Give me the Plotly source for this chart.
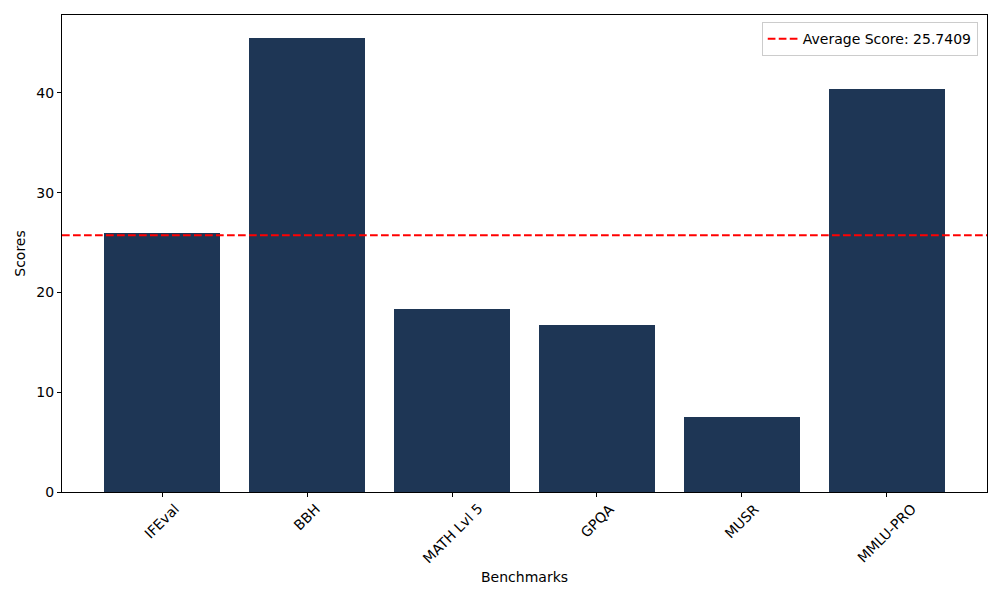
import plotly.graph_objects as go

# --- Data ---
benchmarks = ["IFEval", "BBH", "MATH Lvl 5", "GPQA", "MUSR", "MMLU-PRO"]
scores = [25.95, 45.52, 18.35, 16.72, 7.48, 40.42]
average_score = 25.7409

positions = list(range(len(benchmarks)))
font = dict(family="DejaVu Sans", size=14, color="black")

fig = go.Figure()

fig.add_trace(go.Bar(
    x=positions,
    y=scores,
    width=0.8,
    marker=dict(color="#1e3655", line=dict(width=0)),
    showlegend=False,
))

# average line across the whole plot, shown in the legend
fig.add_hline(
    y=average_score,
    line=dict(color="red", width=2, dash="7.7px,3.3px"),
    showlegend=True,
    name=f"Average Score: {average_score}",
)

# rotated tick labels centred under each tick (matplotlib style)
for pos, name in zip(positions, benchmarks):
    fig.add_annotation(
        x=pos, y=0, xref="x", yref="paper",
        text=name, textangle=-45, showarrow=False,
        xanchor="center", yanchor="top", yshift=-6,
        font=font,
    )

fig.add_annotation(
    x=0.5, y=0, xref="paper", yref="paper",
    text="Benchmarks", showarrow=False,
    xanchor="center", yanchor="middle", yshift=-85,
    font=font,
)

fig.update_layout(
    width=992, height=592,
    plot_bgcolor="white", paper_bgcolor="white",
    font=font,
    margin=dict(l=54, r=13, t=7, b=108),
    bargap=0,
    legend=dict(
        x=0.990, y=0.985, xanchor="right", yanchor="top",
        bgcolor="rgba(255,255,255,0.8)",
        bordercolor="#cccccc", borderwidth=1,
        font=font,
    ),
    xaxis=dict(
        tickvals=positions,
        showticklabels=False,
        range=[-0.69, 5.69],
        showline=True, linecolor="black", linewidth=1, mirror=True,
        ticks="outside", ticklen=4, tickcolor="black",
        showgrid=False, zeroline=False,
    ),
    yaxis=dict(
        range=[0, 47.8],
        tickvals=[0, 10, 20, 30, 40],
        showline=True, linecolor="black", linewidth=1, mirror=True,
        ticks="outside", ticklen=4, tickcolor="black",
        showgrid=False, zeroline=False,
        title=dict(text="Scores", standoff=7, font=font),
    ),
)

fig.write_html("out.html")
